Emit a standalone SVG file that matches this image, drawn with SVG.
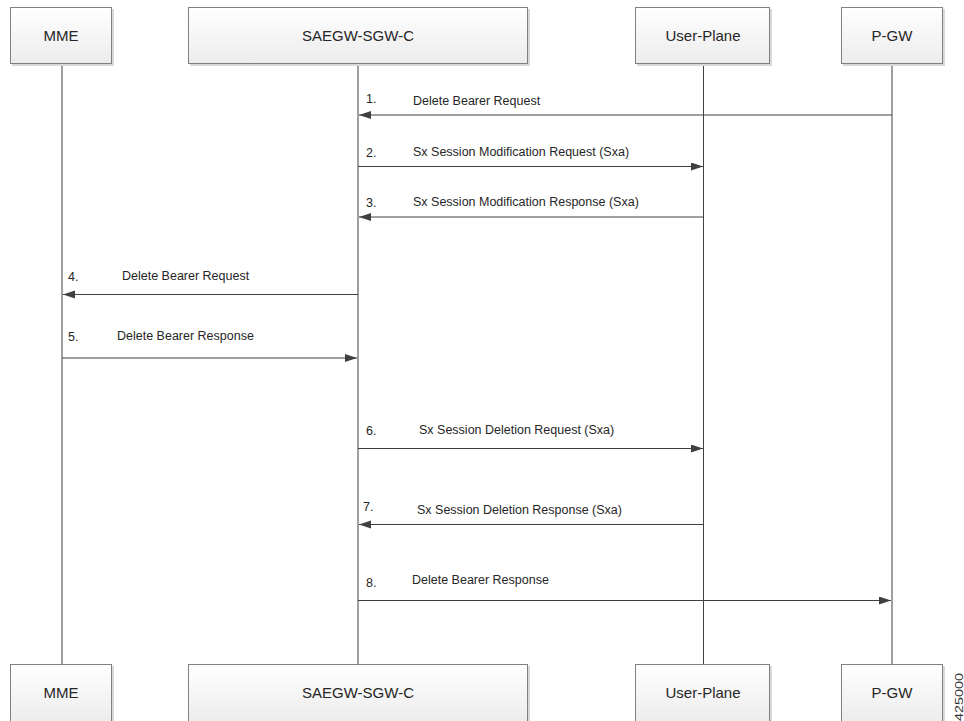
<svg xmlns="http://www.w3.org/2000/svg" width="964" height="721" viewBox="0 0 964 721">
<defs>
<linearGradient id="boxfill" x1="0" y1="0" x2="0" y2="1">
<stop offset="0" stop-color="#ffffff"/>
<stop offset="1" stop-color="#ececec"/>
</linearGradient>
<marker id="arrow" markerUnits="userSpaceOnUse" markerWidth="13" markerHeight="9" refX="12" refY="4" orient="auto">
<path d="M0,0 L12,4 L0,8 z" fill="#404040"/>
</marker>
</defs>
<style>
.box{fill:url(#boxfill);stroke:#808080;stroke-width:1}
.shadow{fill:#d9d9d9}
.lbl{font-family:"Liberation Sans",Arial,sans-serif;font-size:15px;fill:#262626;text-anchor:middle}
.life{stroke:#404040;stroke-width:1;fill:none}
.msg{stroke:#404040;stroke-width:1;fill:none;marker-end:url(#arrow)}
.txt{font-family:"Liberation Sans",Arial,sans-serif;font-size:12.5px;fill:#262626}
.fig{font-family:"Liberation Sans",Arial,sans-serif;font-size:11px;fill:#333333;text-anchor:middle}
</style>
<rect width="964" height="721" fill="#ffffff"/>

<g id="lifelines">
<line class="life" x1="62" y1="64" x2="62" y2="664"/>
<line class="life" x1="358" y1="64" x2="358" y2="664"/>
<line class="life" x1="703.500" y1="64" x2="703.500" y2="664"/>
<line class="life" x1="892" y1="64" x2="892" y2="664"/>
</g>

<g id="node-mme-top">
<rect class="shadow" x="12" y="9" width="102" height="57"/>
<rect class="box" x="10.500" y="7.500" width="101" height="56"/>
<text class="lbl" x="61" y="41">MME</text>
</g>
<g id="node-saegw-top">
<rect class="shadow" x="190" y="9" width="340" height="57"/>
<rect class="box" x="188.500" y="7.500" width="339" height="56"/>
<text class="lbl" x="358" y="41">SAEGW-SGW-C</text>
</g>
<g id="node-up-top">
<rect class="shadow" x="637" y="9" width="135" height="57"/>
<rect class="box" x="635.500" y="7.500" width="134" height="56"/>
<text class="lbl" x="703" y="41">User-Plane</text>
</g>
<g id="node-pgw-top">
<rect class="shadow" x="843" y="9" width="102" height="57"/>
<rect class="box" x="841.500" y="7.500" width="101" height="56"/>
<text class="lbl" x="892" y="41">P-GW</text>
</g>

<g id="node-mme-bottom">
<rect class="shadow" x="12" y="666" width="102" height="57"/>
<rect class="box" x="10.500" y="664.500" width="101" height="57"/>
<text class="lbl" x="61" y="698">MME</text>
</g>
<g id="node-saegw-bottom">
<rect class="shadow" x="190" y="666" width="340" height="57"/>
<rect class="box" x="188.500" y="664.500" width="339" height="57"/>
<text class="lbl" x="358" y="698">SAEGW-SGW-C</text>
</g>
<g id="node-up-bottom">
<rect class="shadow" x="637" y="666" width="135" height="57"/>
<rect class="box" x="635.500" y="664.500" width="134" height="57"/>
<text class="lbl" x="703" y="698">User-Plane</text>
</g>
<g id="node-pgw-bottom">
<rect class="shadow" x="843" y="666" width="102" height="57"/>
<rect class="box" x="841.500" y="664.500" width="101" height="57"/>
<text class="lbl" x="892" y="698">P-GW</text>
</g>

<g id="connectors">
<line class="msg" x1="892" y1="115" x2="359" y2="115"/>
<line class="msg" x1="358" y1="166.500" x2="703" y2="166.500"/>
<line class="msg" x1="703" y1="217" x2="359" y2="217"/>
<line class="msg" x1="358" y1="294.500" x2="63" y2="294.500"/>
<line class="msg" x1="62" y1="358" x2="357" y2="358"/>
<line class="msg" x1="358" y1="448.500" x2="703" y2="448.500"/>
<line class="msg" x1="703" y1="524.500" x2="359" y2="524.500"/>
<line class="msg" x1="358" y1="600.500" x2="891" y2="600.500"/>
</g>

<g id="labels">
<text class="txt" x="366" y="103">1.</text>
<text class="txt" x="413" y="105">Delete Bearer Request</text>
<text class="txt" x="366" y="157">2.</text>
<text class="txt" x="413" y="156">Sx Session Modification Request (Sxa)</text>
<text class="txt" x="366" y="207">3.</text>
<text class="txt" x="413" y="206">Sx Session Modification Response (Sxa)</text>
<text class="txt" x="68" y="281">4.</text>
<text class="txt" x="122" y="280">Delete Bearer Request</text>
<text class="txt" x="68" y="341">5.</text>
<text class="txt" x="117" y="340">Delete Bearer Response</text>
<text class="txt" x="366" y="435">6.</text>
<text class="txt" x="419" y="434">Sx Session Deletion Request (Sxa)</text>
<text class="txt" x="363" y="511">7.</text>
<text class="txt" x="417" y="514">Sx Session Deletion Response (Sxa)</text>
<text class="txt" x="366" y="587">8.</text>
<text class="txt" x="412" y="584">Delete Bearer Response</text>
</g>

<text class="fig" transform="translate(963,697) rotate(-90)" textLength="48" lengthAdjust="spacingAndGlyphs">425000</text>
</svg>
